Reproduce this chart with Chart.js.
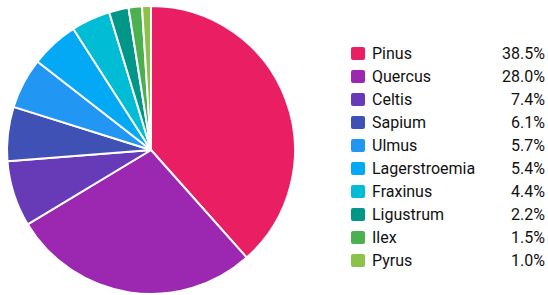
<!DOCTYPE html>
<html>
<head>
<meta charset="utf-8">
<script src="https://cdn.jsdelivr.net/npm/chart.js@4"></script>
<style>
  body { margin: 0; background: #fff; font-family: Roboto, sans-serif; }
  #wrap { position: relative; width: 548px; height: 295px; }
  #chart-box { position: absolute; left: 0; top: 0; width: 302px; height: 295px; }
  #legend { position: absolute; left: 351px; top: 42px; width: 194px; margin: 0; padding: 0; list-style: none; }
  #legend li { display: flex; align-items: center; height: 23px; font-size: 16px; color: #111; }
  #legend .sw { width: 14px; height: 13px; border-radius: 2px; margin-right: 7px; flex: none; }
  #legend .name { flex: 1; }
  #legend .pct { text-align: right; }
</style>
</head>
<body>
<div id="wrap">
  <div id="chart-box"><canvas id="pie"></canvas></div>
  <ul id="legend"></ul>
</div>
<script>
"use strict";
const genera = ['Pinus', 'Quercus', 'Celtis', 'Sapium', 'Ulmus', 'Lagerstroemia', 'Fraxinus', 'Ligustrum', 'Ilex', 'Pyrus'];
const shares = [38.5, 28.0, 7.4, 6.1, 5.7, 5.4, 4.4, 2.2, 1.5, 1.0];
const colors = ['#E91E63', '#9C27B0', '#673AB7', '#3F51B5', '#2196F3', '#03A9F4', '#00BCD4', '#009688', '#4CAF50', '#8BC34A'];

const legend = document.getElementById('legend');
genera.forEach((name, i) => {
    const li = document.createElement('li');
    li.innerHTML = `<span class="sw" style="background:${colors[i]}"></span>` +
        `<span class="name">${name}</span><span class="pct">${shares[i].toFixed(1)}%</span>`;
    legend.appendChild(li);
});

const ctx = document.getElementById('pie').getContext('2d');
new Chart(ctx, {
    type: 'pie',
    data: {
        labels: genera,
        datasets: [{
            data: shares,
            backgroundColor: colors,
            borderColor: '#fff',
            borderWidth: 2
        }]
    },
    options: {
        responsive: true,
        maintainAspectRatio: false,
        animation: false,
        layout: { padding: { top: 5, bottom: 0, left: 0, right: 0 } },
        plugins: {
            legend: { display: false },
            tooltip: { enabled: false }
        }
    }
});
</script>
</body>
</html>
